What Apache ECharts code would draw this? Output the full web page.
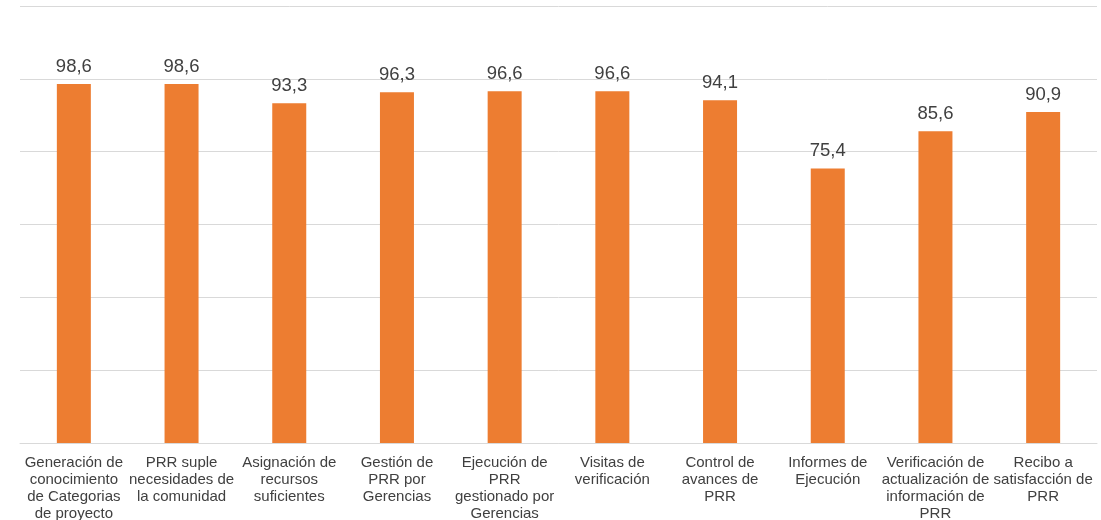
<!DOCTYPE html>
<html>
<head>
<meta charset="utf-8">
<script src="https://cdn.jsdelivr.net/npm/echarts@6/dist/echarts.min.js"></script>
<style>
  html, body { margin: 0; padding: 0; background: #fff; }
  #chart { width: 1101px; height: 520px; }
</style>
</head>
<body>
<div id="chart"></div>
<script>
// Category labels, wrapped as they appear under each bar
const categories = [
  'Generación de\nconocimiento\nde Categorias\nde proyecto',
  'PRR suple\nnecesidades de\nla comunidad',
  'Asignación de\nrecursos\nsuficientes',
  'Gestión de\nPRR por\nGerencias',
  'Ejecución de\nPRR\ngestionado por\nGerencias',
  'Visitas de\nverificación',
  'Control de\navances de\nPRR',
  'Informes de\nEjecución',
  'Verificación de\nactualización de\ninformación de\nPRR',
  'Recibo a\nsatisfacción de\nPRR'
];

// Percentage per item
const values = [98.6, 98.6, 93.3, 96.3, 96.6, 96.6, 94.1, 75.4, 85.6, 90.9];

const chart = echarts.init(document.getElementById('chart'), null, { renderer: 'canvas' });

chart.setOption({
  animation: false,
  grid: { left: 20, right: 4, top: 6, bottom: 77, outerBoundsMode: 'none', containLabel: false },
  xAxis: {
    type: 'category',
    data: categories,
    axisLine: { lineStyle: { color: '#d9d9d9', width: 1 } },
    axisTick: { show: false },
    axisLabel: {
      interval: 0,
      margin: 11,
      color: '#404040',
      fontFamily: 'Liberation Sans, Arial, sans-serif',
      fontSize: 15,
      lineHeight: 17
    }
  },
  yAxis: {
    type: 'value',
    min: 0,
    max: 120,
    interval: 20,
    axisLabel: { show: false },
    axisLine: { show: false },
    axisTick: { show: false },
    splitLine: { lineStyle: { color: '#d9d9d9', width: 1 } }
  },
  series: [{
    type: 'bar',
    data: values,
    barWidth: 34,
    itemStyle: { color: '#ed7d31' },
    label: {
      show: true,
      position: 'top',
      distance: 8,
      color: '#404040',
      fontFamily: 'Liberation Sans, Arial, sans-serif',
      fontSize: 18.5,
      formatter: p => p.value.toFixed(1).replace('.', ',')
    }
  }]
});
</script>
</body>
</html>
